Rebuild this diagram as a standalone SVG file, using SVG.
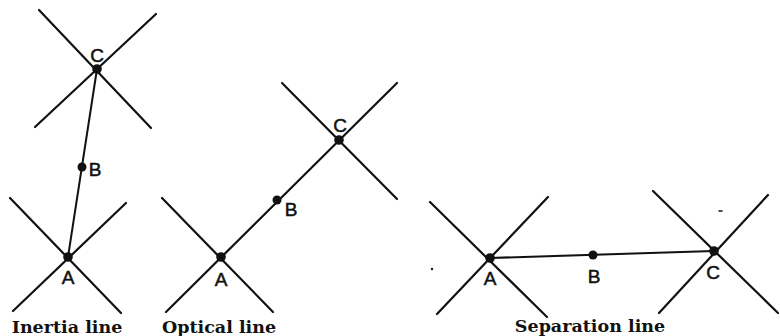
<svg xmlns="http://www.w3.org/2000/svg" width="780" height="336" viewBox="0 0 780 336">
<style>
.ax{stroke:#111;stroke-width:2.2;stroke-linecap:round;fill:none}
.wl{stroke:#111;stroke-width:2;stroke-linecap:round;fill:none}
.dot{fill:#111}
.lbl{font-family:"Liberation Sans",Arial,sans-serif;font-size:19px;fill:#111;stroke:#111;stroke-width:0.5;text-anchor:middle}
.cap{font-family:"DejaVu Serif","Liberation Serif",serif;font-weight:bold;font-size:17.5px;fill:#111;text-anchor:middle}
</style>
<rect width="780" height="336" fill="#fff"/>
<g id="connectors">
<line class="wl" x1="97" y1="69" x2="68" y2="257"/>
<line class="ax" x1="166" y1="312" x2="397" y2="83"/>
<line class="wl" x1="490" y1="258" x2="714" y2="251"/>
</g>
<g id="inertia">
<g id="inertia-C">
<line class="ax" x1="39" y1="10" x2="151" y2="128"/>
<line class="ax" x1="156" y1="14" x2="35" y2="127"/>
<circle class="dot" cx="97" cy="69" r="4.8"/>
<text class="lbl" x="97" y="62">C</text>
</g>
<g id="inertia-B">
<circle class="dot" cx="82" cy="167" r="4.5"/>
<text class="lbl" x="95" y="176">B</text>
</g>
<g id="inertia-A">
<line class="ax" x1="10" y1="198" x2="121" y2="313"/>
<line class="ax" x1="126" y1="203" x2="13" y2="311"/>
<circle class="dot" cx="68" cy="257" r="4.8"/>
<text class="lbl" x="68" y="284">A</text>
</g>
<text class="cap" x="67" y="333">Inertia line</text>
</g>
<g id="optical">
<g id="optical-A">
<line class="ax" x1="162" y1="198" x2="273" y2="312"/>
<circle class="dot" cx="221" cy="257" r="4.8"/>
<text class="lbl" x="221" y="286">A</text>
</g>
<g id="optical-B">
<circle class="dot" cx="277" cy="200" r="4.5"/>
<text class="lbl" x="291" y="216">B</text>
</g>
<g id="optical-C">
<line class="ax" x1="282" y1="83" x2="397" y2="199"/>
<circle class="dot" cx="339" cy="140" r="4.8"/>
<text class="lbl" x="340" y="132">C</text>
</g>
<text class="cap" x="219" y="333">Optical line</text>
</g>
<g id="separation">
<g id="separation-A">
<line class="ax" x1="430" y1="202" x2="547" y2="317"/>
<line class="ax" x1="548" y1="197" x2="437" y2="314"/>
<circle class="dot" cx="490" cy="258" r="4.8"/>
<text class="lbl" x="490" y="285">A</text>
</g>
<g id="separation-B">
<circle class="dot" cx="593" cy="255" r="4.5"/>
<text class="lbl" x="594" y="283">B</text>
</g>
<g id="separation-C">
<line class="ax" x1="653" y1="191" x2="778" y2="313"/>
<line class="ax" x1="768" y1="195" x2="659" y2="313"/>
<circle class="dot" cx="714" cy="251" r="4.8"/>
<text class="lbl" x="713" y="279">C</text>
</g>
<text class="cap" x="590" y="332">Separation line</text>
</g>
<circle class="dot" cx="432" cy="269" r="1.2"/>
<line class="wl" x1="719" y1="211" x2="722" y2="211" style="stroke-width:1.5"/>
</svg>
